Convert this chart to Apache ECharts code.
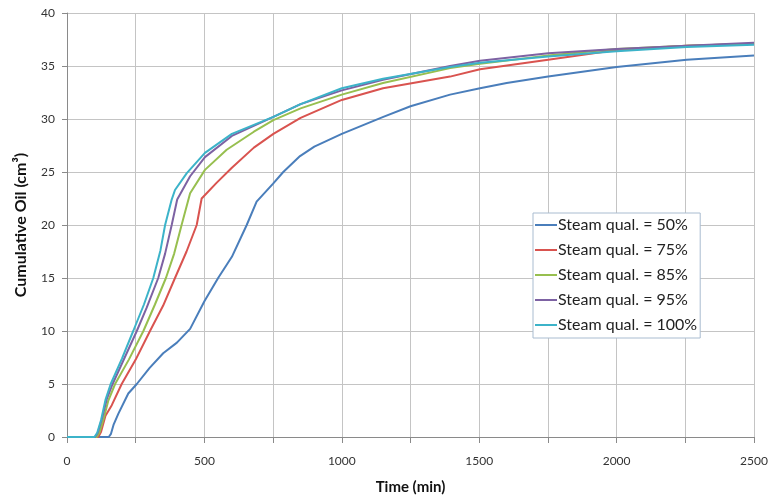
<!DOCTYPE html>
<html>
<head>
<meta charset="utf-8">
<script src="https://cdn.jsdelivr.net/npm/echarts@6/dist/echarts.min.js"></script>
<style>html,body{margin:0;padding:0;background:#fff}#c{width:772px;height:502px}</style>
</head>
<body>
<div id="c"></div>
<script>
var seriesNames = ['Steam qual. = 50%','Steam qual. = 75%','Steam qual. = 85%','Steam qual. = 95%','Steam qual. = 100%'];
var seriesColors = ['#4a7ebb','#d9534f','#97bf4f','#7d62a3','#3cb3c9'];

var time50 = [0,152,160,170,187,223,254,300,350,400,448,500,550,600,654,690,750,787,848,900,1000,1151,1250,1394,1503,1600,1751,2000,2255,2500];
var oil50  = [0,0,0.3,1.2,2.2,4.1,5,6.5,7.9,8.9,10.2,12.8,15,17.0,20,22.2,23.9,25.0,26.5,27.4,28.6,30.2,31.2,32.3,32.9,33.4,34.0,34.9,35.6,36.0];

var time75 = [0,114,124,140,163,199,250,302,350,393,435,472,490,545,600,680,751,850,1000,1150,1394,1503,1751,2000,2255,2500];
var oil75  = [0,0,0.5,2.0,3.0,5,7.3,10,12.4,15,17.5,20,22.5,24.0,25.4,27.3,28.6,30.1,31.8,32.9,34.0,34.7,35.6,36.5,36.9,37.1];

var time85 = [0,108,118,134,150,175,225,278,320,360,390,417,448,502,581,680,751,850,1000,1150,1394,1503,1751,2000,2255,2500];
var oil85  = [0,0,0.4,1.8,3.4,5,7.3,10,12.5,15,17.3,20,23,25.2,27.1,28.8,29.9,31.0,32.3,33.4,34.8,35.2,36.0,36.6,36.9,37.1];

var time95 = [0,102,112,128,145,166,210,254,290,332,357,381,401,448,502,600,751,850,1000,1150,1394,1503,1751,2000,2255,2500];
var oil95  = [0,0,0.4,1.8,3.6,5,7.5,10,12.2,15,17.3,20,22.4,24.6,26.4,28.4,30.2,31.4,32.7,33.7,35.0,35.5,36.2,36.6,36.9,37.2];

var time100 = [0,100,110,124,140,159,200,241,280,314,340,357,381,393,436,502,600,751,850,1000,1150,1394,1503,1751,2000,2255,2500];
var oil100  = [0,0,0.4,1.6,3.5,5,7.4,10,12.5,15,17.6,20,22.4,23.3,24.9,26.8,28.6,30.2,31.4,32.9,33.8,34.9,35.3,35.9,36.4,36.8,37.0];

var xAxisName = 'Time (min)';
var yAxisName = 'Cumulative Oil (cm³)';

var times = [time50, time75, time85, time95, time100];
var oils = [oil50, oil75, oil85, oil95, oil100];

function pairs(t, v){ return t.map(function(x,i){ return [x, v[i]]; }); }

var FONT = 'Lato, "Open Sans", sans-serif';
var chart = echarts.init(document.getElementById('c'));
chart.setOption({
  animation: false,
  backgroundColor: '#fff',
  textStyle: {fontFamily: FONT},
  grid: {left: 67, right: 18, top: 13, bottom: 65},
  legend: {
    orient: 'vertical',
    left: 533, top: 213,
    data: seriesNames,
    icon: 'rect',
    itemWidth: 22, itemHeight: 2, itemGap: 9,
    padding: [4, 3, 5, 2],
    borderColor: '#a9bcd0', borderWidth: 1,
    backgroundColor: '#fff',
    textStyle: {fontSize: 16, lineHeight: 16, color: '#222', fontFamily: FONT, padding: [0,0,0,-4]}
  },
  xAxis: {
    type: 'value', min: 0, max: 2500, interval: 250,
    name: xAxisName, nameLocation: 'middle', nameGap: 43,
    nameTextStyle: {fontSize: 15, fontWeight: 'bold', color: '#111', fontFamily: FONT},
    axisLine: {show: true, lineStyle: {color: '#8a8a8a', width: 1}},
    axisTick: {show: true, length: 6, inside: false, lineStyle: {color: '#8a8a8a'}},
    axisLabel: {fontSize: 12, color: '#333', margin: 18,
      formatter: function(v){ return v % 500 === 0 ? String(v) : ''; }},
    splitLine: {show: true, lineStyle: {color: '#c4c4c4', width: 1}}
  },
  yAxis: {
    type: 'value', min: 0, max: 40, interval: 5,
    name: yAxisName, nameLocation: 'middle', nameGap: 38,
    nameTextStyle: {fontSize: 16, fontWeight: 'bold', color: '#111', fontFamily: FONT},
    axisLine: {show: true, lineStyle: {color: '#8a8a8a', width: 1}},
    axisTick: {show: true, length: 5, lineStyle: {color: '#8a8a8a'}},
    axisLabel: {fontSize: 12, color: '#333', margin: 12},
    splitLine: {show: true, lineStyle: {color: '#c4c4c4', width: 1}}
  },
  series: seriesNames.map(function(n, i){
    return {
      name: n, type: 'line', data: pairs(times[i], oils[i]),
      symbol: 'none', smooth: false,
      lineStyle: {color: seriesColors[i], width: 2},
      itemStyle: {color: seriesColors[i]}
    };
  })
});
</script>
</body>
</html>
